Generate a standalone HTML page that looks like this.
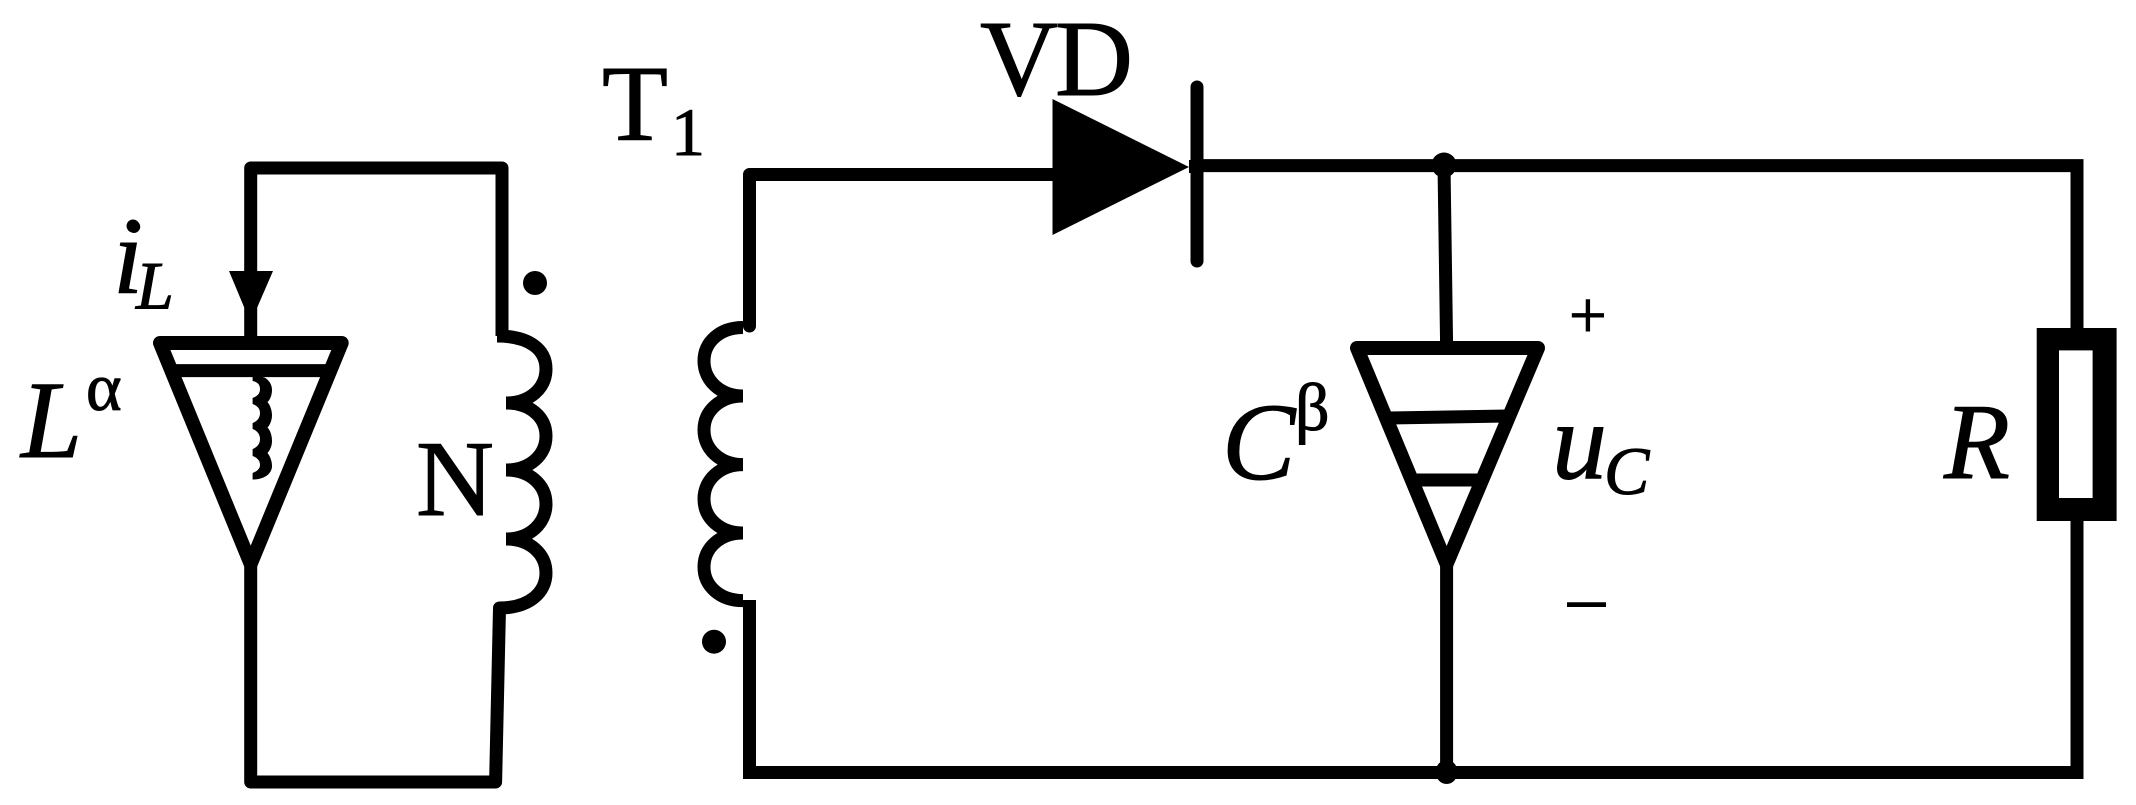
<!DOCTYPE html>
<html>
<head>
<meta charset="utf-8">
<style>
html,body{margin:0;padding:0;background:#fff;width:2136px;height:805px;overflow:hidden}
svg{display:block}
text{font-family:"Liberation Serif",serif;fill:#000;stroke:#000;stroke-width:1}
.i{font-style:italic}
</style>
</head>
<body>
<svg width="2136" height="805" viewBox="0 0 2136 805" xmlns="http://www.w3.org/2000/svg">
<rect width="2136" height="805" fill="#fff"/>
<g fill="none" stroke="#000" stroke-width="13" stroke-linejoin="round" stroke-linecap="butt">
  <!-- left loop -->
  <path d="M250.7,290 V168 H502 V336"/>
  <path d="M250.7,300 V340"/>
  <path d="M250.7,560 V782 H495.6 L499.5,608" stroke-linecap="round"/>
  <!-- L inductor triangle -->
  <path d="M160,343 H341.7 L250.7,564 Z" stroke-width="14"/>
  <path d="M174,370.6 H327"/>
  <!-- N coil -->
  <path d="M497,336 C530,336 546,350 546,369 C546,388 530,403 506,403 M506,403 C530,403 546,417 546,436 C546,455 530,470 506,470 M506,470 C530,470 546,485 546,504 C546,523 530,539 506,539 M506,539 C530,539 546,554 546,573 C546,592 530,608 499,608"/>
  <!-- T1 primary wires -->
  <path d="M749.5,326 V174.5 H1053" stroke-linecap="round"/>
  <path d="M749.5,600 V772.5 H2077 V165.6 H1197" stroke-linejoin="miter"/>
  <!-- T1 coil -->
  <path d="M743,327.5 C720,327.5 704,342 704,361 C704,380 720,396 743,396 M743,396 C720,396 704,411 704,430 C704,449 720,464.6 743,464.6 M743,464.6 C720,464.6 704,480 704,499 C704,518 720,533 743,533 M743,533 C720,533 704,548 704,567 C704,586 720,600.6 743,600.6"/>
  <!-- diode bar -->
  <path d="M1197,87 V261" stroke-linecap="round"/>
  <!-- capacitor -->
  <path d="M1444,165 L1446.6,345"/>
  <path d="M1357,348 H1538 L1446.6,564 Z" stroke-width="14"/>
  <path d="M1388,418 L1507,416"/>
  <path d="M1414.6,480 H1481"/>
  <path d="M1446.6,560 V772"/>
</g>
<g fill="#000">
  <!-- arrow -->
  <polygon points="229,271 273,271 256.7,308.6 244.7,308.6"/>
  <!-- small inductor -->
  <path d="M252.6,376.7 H262 C268,378 272,384 272,390 C272,395 270,400 267.5,402 C270,405 272,410 272,415.5 C272,420 270,425 267.5,427.5 C270,430 272,435 272,441 C272,446 270,450 267.5,453 C270,456 272,461 272,466 C272,474 264,479.5 252.6,479.5 L252.6,473 C258,471 260,468 260,465 C260,461 258,458 252.6,456 L252.6,449 C258,447 260,443 260,439 C260,435 258,431 252.6,429 L252.6,423 C258,421 260,417 260,413 C260,409 258,406 252.6,404 L252.6,398 C258,396 260,393 260,389 C260,385 258,382 252.6,381 Z"/>
  <!-- dots -->
  <ellipse cx="535" cy="283" rx="12" ry="12"/>
  <circle cx="714" cy="641.7" r="12"/>
  <ellipse cx="1444" cy="165" rx="12.5" ry="12.5"/>
  <ellipse cx="1446.6" cy="772" rx="11" ry="12"/>
  <!-- diode -->
  <polygon points="1052.5,99 1052.5,235 1189,167"/>
  <rect x="1189" y="160" width="10" height="13"/>
  <!-- resistor -->
  <rect x="2036.7" y="328" width="79.9" height="193"/>
  <rect x="2059" y="350.4" width="33.6" height="147.6" fill="#fff"/>
</g>
<!-- labels -->
<text x="113" y="292.7" font-size="108" class="i">i</text>
<circle cx="133" cy="226" r="6.5" fill="#000"/>
<text x="136" y="308.6" font-size="68" class="i">L</text>
<text x="21" y="457" font-size="110" class="i">L</text>
<text x="86" y="410" font-size="68">α</text>
<text x="416" y="515" font-size="108">N</text>
<text x="602" y="140" font-size="108">T</text>
<text x="671" y="155" font-size="68">1</text>
<text x="980" y="95" font-size="108" letter-spacing="-3">VD</text>
<text x="1222" y="479" font-size="110" class="i">C</text>
<text x="1295" y="430" font-size="68">β</text>
<text x="1569" y="337.4" font-size="67">+</text>
<text x="1552" y="478" font-size="110" class="i">u</text>
<text x="1604" y="494" font-size="68" class="i">C</text>
<text x="1568" y="622" font-size="74">–</text>
<text x="1944" y="478" font-size="108" class="i">R</text>
</svg>
</body>
</html>
